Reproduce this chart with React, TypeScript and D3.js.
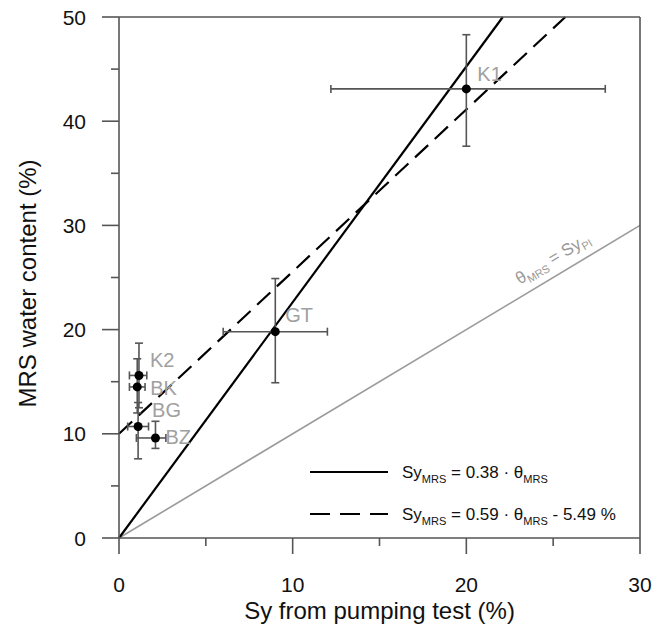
import React from 'react';
import { scaleLinear, range } from 'd3';

// sites, values (%)
const sites = ['K1', 'GT', 'K2', 'BK', 'BG', 'BZ'];
const syPump = [20.0, 9.0, 1.15, 1.05, 1.1, 2.1];
const syLow = [12.2, 6.0, 0.6, 0.6, 0.5, 1.0];
const syHigh = [28.0, 12.0, 1.6, 1.5, 1.7, 2.7];
const thetaMrs = [43.1, 19.8, 15.6, 14.5, 10.7, 9.6];
const thetaLow = [37.6, 14.9, 12.5, 12.0, 7.6, 8.6];
const thetaHigh = [48.3, 24.9, 18.7, 17.2, 13.0, 11.2];

// fitted lines, as [x0, y0, x1, y1]
const solidFit = [0, 0, 22.1, 50];
const dashedFit = [0, 10, 25.7, 50];
const oneToOne = [0, 0, 30, 30];

const xTicks = [0, 10, 20, 30];
const yTicks = [0, 10, 20, 30, 40, 50];

// label placement next to each point, px
const labelOffset = {
  K1: [11, -8], GT: [10, -10], K2: [11, -8], BK: [13, 8], BG: [14, -10], BZ: [10, 6],
};

const W = 666;
const H = 628;
const margin = { top: 17, right: 26, bottom: 90, left: 119 };

export default function App() {
  const x = scaleLinear().domain([0, 30]).range([margin.left, W - margin.right]);
  const y = scaleLinear().domain([0, 50]).range([H - margin.bottom, margin.top]);
  const axisColor = '#555';
  const font = 'Arial, "Liberation Sans", sans-serif';
  const x0 = x(0), x1 = x(30), y0 = y(0), y1 = y(50);

  const seg = (l, props) => (
    <line x1={x(l[0])} y1={y(l[1])} x2={x(l[2])} y2={y(l[3])} {...props} />
  );

  // angle of the 1:1 line on screen
  const ang = (Math.atan2(y(30) - y(0), x(30) - x(0)) * 180) / Math.PI;
  const cap = 4;

  return (
    <svg width={W} height={H} style={{ position: 'absolute', left: 0, top: 0 }} fontFamily={font}>
      <rect width={W} height={H} fill="#fff" />

      {/* fit lines */}
      {seg(oneToOne, { stroke: '#9a9a9a', strokeWidth: 1.6 })}
      {seg(solidFit, { stroke: '#000', strokeWidth: 2.2 })}
      {seg(dashedFit, { stroke: '#000', strokeWidth: 2.2, strokeDasharray: '18 9' })}

      <text
        transform={`translate(${x(23.4)},${y(23.4)}) rotate(${ang})`}
        fill="#999" fontSize={17} dy={-11}
      >
        θ<tspan fontSize={11} dy={4}>MRS</tspan>
        <tspan dy={-4}> = Sy</tspan>
        <tspan fontSize={11} dy={4}>PI</tspan>
      </text>

      {/* error bars and points */}
      {sites.map((s, i) => (
        <g key={s} stroke={axisColor} strokeWidth={1.6}>
          <line x1={x(syLow[i])} x2={x(syHigh[i])} y1={y(thetaMrs[i])} y2={y(thetaMrs[i])} />
          <line x1={x(syLow[i])} x2={x(syLow[i])} y1={y(thetaMrs[i]) - cap} y2={y(thetaMrs[i]) + cap} />
          <line x1={x(syHigh[i])} x2={x(syHigh[i])} y1={y(thetaMrs[i]) - cap} y2={y(thetaMrs[i]) + cap} />
          <line x1={x(syPump[i])} x2={x(syPump[i])} y1={y(thetaLow[i])} y2={y(thetaHigh[i])} />
          <line x1={x(syPump[i]) - cap} x2={x(syPump[i]) + cap} y1={y(thetaLow[i])} y2={y(thetaLow[i])} />
          <line x1={x(syPump[i]) - cap} x2={x(syPump[i]) + cap} y1={y(thetaHigh[i])} y2={y(thetaHigh[i])} />
        </g>
      ))}
      {sites.map((s, i) => (
        <circle key={s} cx={x(syPump[i])} cy={y(thetaMrs[i])} r={4.5} fill="#000" />
      ))}
      {sites.map((s, i) => (
        <text
          key={s}
          x={x(syPump[i]) + labelOffset[s][0]}
          y={y(thetaMrs[i]) + labelOffset[s][1]}
          fill="#a0a0a0"
          fontSize={20}
        >
          {s}
        </text>
      ))}

      {/* frame and axes */}
      <g stroke={axisColor} strokeWidth={1.6} fill="none">
        <line x1={x0} x2={x1} y1={y1} y2={y1} />
        <line x1={x1} x2={x1} y1={y1} y2={y0} />
        <line x1={x0} x2={x1} y1={y0} y2={y0} />
        <line x1={x0} x2={x0} y1={y1} y2={y0} />
        {range(0, 31, 5).map((v) => (
          <line key={'xt' + v} x1={x(v)} x2={x(v)} y1={y0} y2={y0 + (v % 10 === 0 ? 16 : 8)} />
        ))}
        {range(0, 51, 5).map((v) => (
          <line key={'yt' + v} x1={x0 - (v % 10 === 0 ? 17 : 8)} x2={x0} y1={y(v)} y2={y(v)} />
        ))}
      </g>
      {xTicks.map((v) => (
        <text key={'xl' + v} x={x(v)} y={y0 + 54} textAnchor="middle" fontSize={21} fill="#111">
          {v}
        </text>
      ))}
      {yTicks.map((v) => (
        <text key={'yl' + v} x={x0 - 33} y={y(v)} dy="0.36em" textAnchor="end" fontSize={21} fill="#111">
          {v}
        </text>
      ))}

      <text x={(x0 + x1) / 2} y={H - 9} textAnchor="middle" fontSize={24} fill="#111">
        Sy from pumping test (%)
      </text>
      <text
        transform={`translate(36,${(y0 + y1) / 2 + 6}) rotate(-90)`}
        textAnchor="middle"
        fontSize={24}
        fill="#111"
      >
        MRS water content (%)
      </text>

      {/* legend */}
      <g fontSize={17} fill="#111">
        <line x1={310} x2={388} y1={472} y2={472} stroke="#000" strokeWidth={2.2} />
        <text x={402} y={478}>
          Sy<tspan fontSize={11} dy={5}>MRS</tspan>
          <tspan dy={-5}> = 0.38 · θ</tspan>
          <tspan fontSize={11} dy={5}>MRS</tspan>
        </text>
        <line x1={310} x2={388} y1={514} y2={514} stroke="#000" strokeWidth={2.2} strokeDasharray="20 10" />
        <text x={402} y={520}>
          Sy<tspan fontSize={11} dy={5}>MRS</tspan>
          <tspan dy={-5}> = 0.59 · θ</tspan>
          <tspan fontSize={11} dy={5}>MRS</tspan>
          <tspan dy={-5}> - 5.49 %</tspan>
        </text>
      </g>
    </svg>
  );
}
